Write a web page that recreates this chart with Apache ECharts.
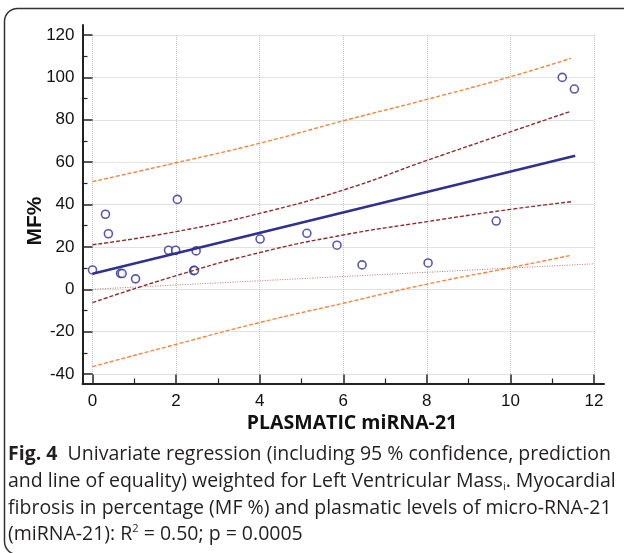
<!DOCTYPE html>
<html>
<head>
<meta charset="utf-8">
<script src="https://cdn.jsdelivr.net/npm/echarts@6/dist/echarts.min.js"></script>
<style>
  html, body { margin: 0; padding: 0; background: #fff; }
  #main { width: 624px; height: 553px; }
</style>
</head>
<body>
<div id="main"></div>
<script>
// observed points (miRNA-21, MF%)
const pointX = [0, 0.31, 0.38, 0.67, 0.71, 1.03, 1.82, 1.99, 2.03, 2.42, 2.44, 2.48, 4.01, 5.13, 5.85, 6.45, 8.03, 9.66, 11.24, 11.53];
const pointY = [9.1, 35.4, 26.2, 7.5, 7.4, 4.9, 18.4, 18.4, 42.4, 8.8, 8.9, 18.1, 23.7, 26.4, 20.8, 11.5, 12.4, 32.2, 100.0, 94.5];

// regression line ends
const fitX = [0, 11.55];
const fitY = [7.3, 63.0];

// line of equality
const eqX = [0, 12];
const eqY = [0, 12];

// 95% bands read at these x positions
const bandX = [0, 2, 4, 6, 8, 10, 11.45];
const ciUpper = [21, 27.2, 35.8, 46.8, 60.8, 74.3, 84];
const ciLower = [-6.3, 6.4, 17.3, 25.6, 31.9, 37.7, 41.3];
const piUpper = [50.8, 59.7, 68.9, 79.5, 89.6, 100.3, 109];
const piLower = [-36.5, -26, -15.7, -6.6, 2.4, 10.2, 16.0];

const xTicks = { min: 0, max: 12, interval: 2 };
const yTicks = { min: -40, max: 120, interval: 20 };

const captionLines = [
  "{b|Fig. 4}  Univariate regression (including 95 % confidence, prediction",
  "and line of equality) weighted for Left Ventricular Mass{s|i}. Myocardial",
  "fibrosis in percentage (MF %) and plasmatic levels of micro-RNA-21",
  "(miRNA-21): R{p|2} = 0.50; p = 0.0005",
];

const navy = "#2e3192";
const ciColor = "#8e2b2b";
const piColor = "#f7843a";
const axisColor = "#222";
const font = "Liberation Sans, Arial, sans-serif";
const capFont = "Open Sans, sans-serif";

const zip = (xs, ys) => xs.map((x, i) => [x, ys[i]]);

const myChart = echarts.init(document.getElementById("main"));

const bandLine = (name, xs, ys, color) => ({
  name: name,
  type: "line",
  xAxisIndex: 1,
  yAxisIndex: 1,
  data: zip(xs, ys),
  smooth: true,
  symbol: "none",
  silent: true,
  lineStyle: { color: color, width: 1.4, type: [4, 2] },
});

const captionY = [454, 481, 508, 534];
const captionText = captionLines.map((t, i) => ({
  type: "text",
  x: 8,
  y: captionY[i],
  style: {
    text: t,
    font: "19.5px " + capFont,
    fill: "#231f20",
    verticalAlign: "middle",
    rich: {
      b: { font: "bold 19.5px " + capFont, fill: "#231f20" },
      s: { font: "11px " + capFont, fill: "#231f20", padding: [11, 0, 0, 0] },
      p: { font: "11px " + capFont, fill: "#231f20", padding: [0, 0, 11, 0] },
    },
  },
}));

const option = {
  animation: false,
  grid: [
    // outer frame, just for the long spines
    { left: 82.5, right: 20, top: 25, bottom: 169.5 },
    // data area
    { left: 92.5, right: 30, top: 35, bottom: 179 },
  ],
  xAxis: [
    {
      gridIndex: 0, type: "value", min: 0, max: 1,
      axisLine: { show: true, onZero: false, lineStyle: { color: axisColor, width: 2 } },
      axisTick: { show: false }, axisLabel: { show: false }, splitLine: { show: false },
    },
    {
      gridIndex: 1, type: "value",
      min: xTicks.min, max: xTicks.max, interval: xTicks.interval,
      offset: 9.5,
      axisLine: { show: true, onZero: false, lineStyle: { color: axisColor, width: 2 } },
      axisTick: { show: true, inside: true, length: 9, lineStyle: { color: axisColor, width: 1.5 } },
      minorTick: { show: true, splitNumber: 2, length: 5, lineStyle: { color: axisColor, width: 1.2 } },
      axisLabel: { color: "#111", fontSize: 17, fontFamily: font, margin: 9 },
      splitLine: { show: true, lineStyle: { color: "#c4c4c4", width: 1, type: [1, 1] } },
    },
  ],
  yAxis: [
    {
      gridIndex: 0, type: "value", min: 0, max: 1,
      axisLine: { show: true, onZero: false, lineStyle: { color: axisColor, width: 2 } },
      axisTick: { show: false }, axisLabel: { show: false }, splitLine: { show: false },
    },
    {
      gridIndex: 1, type: "value",
      min: yTicks.min, max: yTicks.max, interval: yTicks.interval,
      offset: 10,
      axisLine: { show: true, onZero: false, lineStyle: { color: axisColor, width: 2 } },
      axisTick: { show: true, inside: true, length: 10, lineStyle: { color: axisColor, width: 1.5 } },
      minorTick: { show: true, splitNumber: 2, length: 5, lineStyle: { color: axisColor, width: 1.2 } },
      axisLabel: { color: "#111", fontSize: 17, fontFamily: font, margin: 8 },
      splitLine: { show: true, lineStyle: { color: "#c4c4c4", width: 1, type: [1, 1] } },
    },
  ],
  graphic: [
    {
      type: "rect",
      shape: { x: 4.5, y: 8.5, width: 640, height: 546, r: 13 },
      style: { fill: "none", stroke: "#333", lineWidth: 1.5 },
      silent: true,
    },
    {
      type: "text", x: 35.5, y: 221, rotation: Math.PI / 2,
      style: { text: "MF%", font: "bold 21px " + font, fill: "#111", align: "center", verticalAlign: "middle" },
    },
    {
      type: "text", x: 352, y: 423,
      style: { text: "PLASMATIC miRNA-21", font: "bold 19.5px " + capFont, fill: "#111", align: "center", verticalAlign: "middle" },
    },
  ].concat(captionText),
  series: [
    {
      name: "equality",
      type: "line",
      xAxisIndex: 1,
      yAxisIndex: 1,
      data: zip(eqX, eqY),
      symbol: "none",
      silent: true,
      lineStyle: { color: "#b87474", width: 1, type: [1, 1.5] },
    },
    bandLine("pred upper", bandX, piUpper, piColor),
    bandLine("pred lower", bandX, piLower, piColor),
    bandLine("conf upper", bandX, ciUpper, ciColor),
    bandLine("conf lower", bandX, ciLower, ciColor),
    {
      name: "fit",
      type: "line",
      xAxisIndex: 1,
      yAxisIndex: 1,
      data: zip(fitX, fitY),
      symbol: "none",
      silent: true,
      lineStyle: { color: navy, width: 2.4 },
    },
    {
      name: "MF%",
      type: "scatter",
      xAxisIndex: 1,
      yAxisIndex: 1,
      data: zip(pointX, pointY),
      symbol: "circle",
      symbolSize: 8,
      itemStyle: { color: "#fff", borderColor: navy, borderWidth: 1.6 },
    },
  ],
};

myChart.setOption(option);
</script>
</body>
</html>
